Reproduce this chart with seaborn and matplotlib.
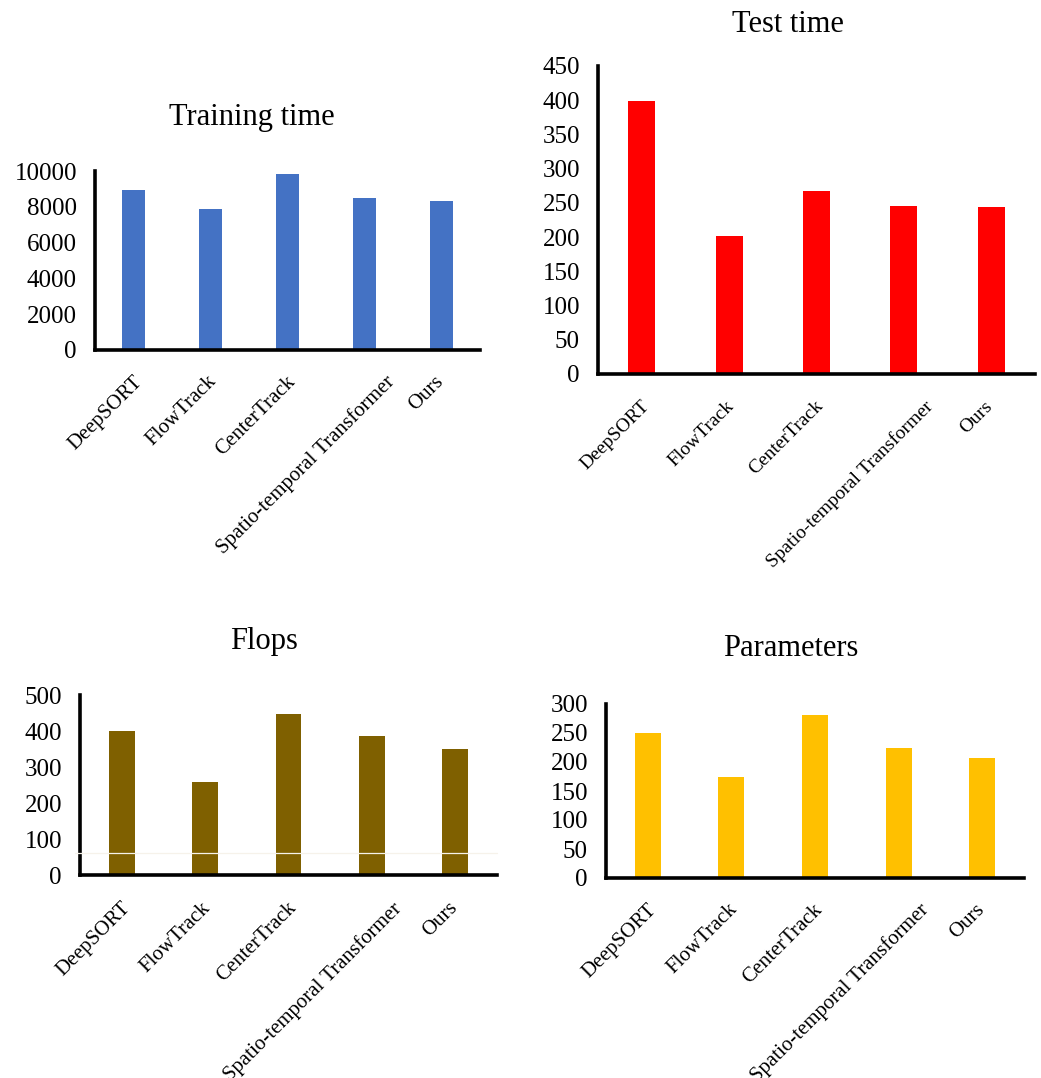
import numpy as np
import pandas as pd
import matplotlib
matplotlib.use("Agg")
import matplotlib.pyplot as plt
import seaborn as sns
from matplotlib.transforms import ScaledTranslation

methods = ["DeepSORT", "FlowTrack", "CenterTrack", "Spatio-temporal Transformer", "Ours"]
training_time = [8940, 7860, 9850, 8510, 8340]
test_time = [399, 202, 267, 245, 244]
flops = [400, 259, 446, 387, 350]
parameters = [250, 175, 281, 224, 207]

training_ticks = [0, 2000, 4000, 6000, 8000, 10000]
test_ticks = [0, 50, 100, 150, 200, 250, 300, 350, 400, 450]
flops_ticks = [0, 100, 200, 300, 400, 500]
param_ticks = [0, 50, 100, 150, 200, 250, 300]
flops_line = 60

sns.set_style("white")
plt.rcParams["font.family"] = ["Liberation Serif", "DejaVu Serif"]

fig = plt.figure(figsize=(10.41, 10.78), dpi=100)

# horizontal nudges (px) of the rotated category labels, as laid out in the reference
label_shift_px = [-1, -4, -2, 20, -7]


def panel(rect, values, color, ticks, title, title_xy, xfs=15, xpad=17):
    ax = fig.add_axes(rect)
    df = pd.DataFrame({"method": methods, "value": values})
    sns.barplot(data=df, x="method", y="value", color=color, width=0.31,
                saturation=1, edgecolor="none", ax=ax)
    ax.set_xlim(-0.5, 4.5)
    ax.set_ylim(0, ticks[-1])
    ax.set_yticks(ticks)
    ax.set_yticklabels([str(t) for t in ticks])
    ax.set_xlabel("")
    ax.set_ylabel("")
    for s in ["top", "right"]:
        ax.spines[s].set_visible(False)
    for s in ["left", "bottom"]:
        ax.spines[s].set_linewidth(2.6)
        ax.spines[s].set_color("black")
        ax.spines[s].set_zorder(5)
    ax.tick_params(axis="y", length=0, pad=13, labelsize=18, colors="black")
    ax.tick_params(axis="x", length=0, pad=xpad, labelsize=xfs, colors="black")
    for lab, dx in zip(ax.get_xticklabels(), label_shift_px):
        lab.set_rotation(45)
        lab.set_ha("right")
        lab.set_va("top")
        lab.set_rotation_mode("anchor")
        off = ScaledTranslation(dx / 100, 0, fig.dpi_scale_trans)
        lab.set_transform(lab.get_transform() + off)
    fig.text(title_xy[0] / 1041, 1 - title_xy[1] / 1078, title, fontsize=22,
             ha="center", va="center", color="black")
    return ax


panel([95 / 1041, 1 - 350 / 1078, 385 / 1041, 179 / 1078], training_time,
      "#4472C4", training_ticks, "Training time", (252, 118), xfs=15, xpad=16)
panel([598 / 1041, 1 - 374 / 1078, 437 / 1041, 308 / 1078], test_time,
      "#FF0000", test_ticks, "Test time", (788, 25), xfs=14, xpad=17)
axf = panel([80 / 1041, 1 - 875 / 1078, 417 / 1041, 180 / 1078], flops,
            "#7F6000", flops_ticks, "Flops", (264, 641), xfs=15, xpad=17)
axf.plot([-0.56, 4.5], [flops_line, flops_line], color="#f6f2ea", lw=0.9,
         zorder=10, clip_on=False)
panel([606 / 1041, 1 - 878 / 1078, 418 / 1041, 174 / 1078], parameters,
      "#FFC000", param_ticks, "Parameters", (791, 649), xfs=15, xpad=16)

fig.savefig("out.png", dpi=100, facecolor="white")
